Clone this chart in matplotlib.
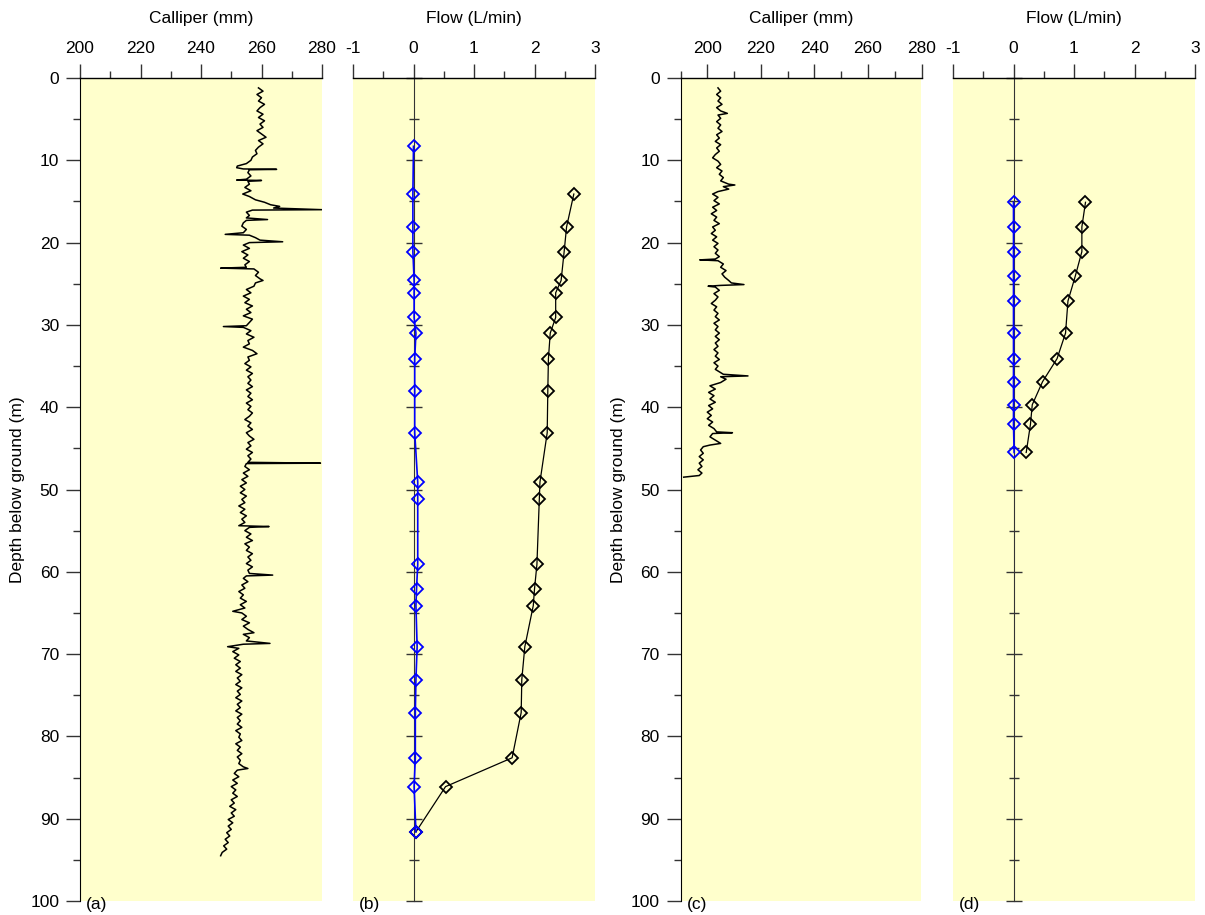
import numpy as np
import matplotlib
matplotlib.use("Agg")
import matplotlib.pyplot as plt
from matplotlib.ticker import MultipleLocator, NullFormatter

plt.rcParams['font.family'] = ['Liberation Sans', 'DejaVu Sans']
plt.rcParams['font.size'] = 12.5

# ---------------- data ----------------
# Panel (a): calliper log, borehole 1
cal1_depth = [1.2, 1.6, 2.0, 2.4, 2.8, 3.2, 3.6, 4.0, 4.4, 4.8, 5.2, 5.6, 6.0, 6.4, 6.8, 7.2, 7.6, 8.0, 8.4,
              8.8, 9.2, 9.6, 10.0, 10.4, 10.7, 10.9, 11.05, 11.1, 11.15, 11.5, 11.9, 12.3, 12.4, 12.45, 12.55,
              12.9, 13.3, 13.7, 14.1, 14.4, 14.8, 15.1, 15.4, 15.6, 15.8, 16.0, 16.05, 16.3, 16.7, 17.0, 17.2,
              17.3, 17.6, 18.0, 18.4, 18.8, 19.0, 19.1, 19.4, 19.7, 19.9, 20.0, 20.3, 20.7, 21.1, 21.5, 21.9,
              22.3, 22.7, 23.0, 23.1, 23.2, 23.6, 24.0, 24.4, 24.6, 24.9, 25.3, 25.7, 26.1, 26.5, 26.9, 27.3,
              27.7, 28.1, 28.5, 28.9, 29.3, 29.7, 30.1, 30.2, 30.3, 30.7, 31.1, 31.5, 31.9, 32.3, 32.7, 33.1,
              33.5, 33.9, 34.3, 34.7, 35.1, 35.5, 35.9, 36.3, 36.7, 37.1, 37.5, 37.9, 38.3, 38.7, 39.1, 39.5,
              39.9, 40.3, 40.7, 41.1, 41.5, 41.9, 42.3, 42.7, 43.1, 43.5, 43.9, 44.3, 44.7, 45.1, 45.5, 45.9,
              46.3, 46.7, 46.8, 46.85, 47.2, 47.6, 48.0, 48.4, 48.8, 49.2, 49.6, 50.0, 50.4, 50.8, 51.2, 51.6,
              52.0, 52.4, 52.8, 53.2, 53.6, 54.0, 54.4, 54.5, 54.6, 55.0, 55.4, 55.8, 56.2, 56.6, 57.0, 57.4,
              57.8, 58.2, 58.6, 59.0, 59.4, 59.8, 60.2, 60.4, 60.5, 60.8, 61.2, 61.6, 62.0, 62.4, 62.8, 63.2,
              63.6, 64.0, 64.4, 64.8, 65.0, 65.4, 65.8, 66.2, 66.6, 67.0, 67.4, 67.6, 68.0, 68.4, 68.7, 68.8,
              69.1, 69.3, 69.7, 70.1, 70.5, 70.9, 71.3, 71.7, 72.1, 72.5, 72.9, 73.3, 73.7, 74.1, 74.5, 74.9,
              75.3, 75.7, 76.1, 76.5, 76.9, 77.3, 77.7, 78.1, 78.5, 78.9, 79.3, 79.7, 80.1, 80.5, 80.9, 81.3,
              81.7, 82.1, 82.5, 82.9, 83.3, 83.7, 83.9, 84.1, 84.5, 84.9, 85.3, 85.7, 86.1, 86.5, 86.9, 87.3,
              87.7, 88.1, 88.5, 88.9, 89.3, 89.7, 90.1, 90.5, 90.9, 91.3, 91.7, 92.1, 92.5, 92.9, 93.3, 93.7,
              94.1, 94.5]
cal1_mm = [259, 260.5, 258.5, 260, 259, 261, 259.5, 258.5, 260.5, 259, 261, 259.5, 260.5, 258.5, 260, 261.5, 259, 260.5, 259,
           258, 258.5, 257, 256.5, 255, 252, 251.8, 254, 265, 256, 255.5, 256.5, 255, 251.8, 260, 255.5,
           256, 254.5, 256.5, 253.8, 256, 258, 261, 263, 266, 264, 280, 257, 255, 256, 255, 262,
           255, 254, 253.5, 255, 254, 248, 256, 258, 259.5, 267, 256, 254, 256, 253.5, 255.5, 254,
           256, 254.5, 255, 246.5, 257.5, 259, 258, 259.5, 260.5, 258, 257.5, 255, 256.5, 254, 256, 254.5,
           257, 255, 256.5, 254, 257, 256, 255, 247.4, 254, 256.5, 255, 257.5, 255.5, 256, 254, 257,
           258.5, 255.5, 256, 254.5, 256.5, 255, 257, 255.5, 256.5, 255.5, 257, 255, 256.5, 255.5, 257, 255,
           256.5, 255.5, 257, 256, 254.5, 256.5, 255.5, 257, 255, 256, 257.5, 255.5, 256.5, 255, 257, 255.5,
           256.5, 255.5, 279.5, 255, 254.5, 256, 254, 255.5, 253.5, 255, 253, 254.5, 253, 255, 253.5, 254.5,
           252.5, 254.5, 253, 255, 253.5, 254.5, 252.5, 262.5, 256, 254.5, 256.5, 255, 257, 254.5, 256, 255,
           257, 255.5, 256.5, 255, 257, 255.5, 256, 263.7, 255, 254, 255.5, 253.5, 254.5, 252.5, 254, 253,
           255, 253, 254.5, 250.5, 253.5, 255, 253.5, 256, 254, 255.5, 257.5, 254, 256, 255, 262.8, 254,
           248.8, 252.5, 250.5, 252.5, 251, 253, 251.5, 253, 251.5, 253.5, 252, 253, 251.5, 253.5, 252, 253,
           251.5, 253.5, 252, 253, 251.5, 253.5, 252, 253, 252, 253.5, 251.5, 253, 252.5, 253.5, 251.5, 253,
           252, 253.5, 252, 253, 252.5, 254, 255.5, 252, 251, 252.5, 250.5, 252, 250, 251.5, 250.5, 252,
           250, 251, 249.5, 251.5, 250, 251, 249, 250.5, 249, 250, 248.5, 249.5, 248, 249, 247.5, 248.5,
           247, 246.5]

# Panel (b): flow log, borehole 1
flow1_depth = [14.1, 18.1, 21.1, 24.6, 26.1, 29.1, 31.0, 34.1, 38.0, 43.1, 49.1, 51.1, 59.1,
               62.1, 64.1, 69.1, 73.1, 77.1, 82.6, 86.1, 91.6]
flow1_pumped = [2.65, 2.53, 2.49, 2.44, 2.35, 2.35, 2.26, 2.23, 2.22, 2.21, 2.09, 2.08, 2.04,
                2.00, 1.98, 1.84, 1.79, 1.78, 1.63, 0.53, 0.04]
flow1_amb_depth = [8.3, 14.1, 18.1, 21.1, 24.6, 26.1, 29.1, 31.0, 34.1, 38.0, 43.1, 49.1, 51.1,
                   59.1, 62.1, 64.1, 69.1, 73.1, 77.1, 82.6, 86.1, 91.6]
flow1_ambient = [0.0, -0.01, -0.01, -0.01, 0.01, 0.01, 0.01, 0.04, 0.02, 0.02, 0.02, 0.07, 0.07,
                 0.07, 0.05, 0.04, 0.06, 0.04, 0.03, 0.03, 0.01, 0.04]

# Panel (c): calliper log, borehole 2
cal2_depth = [1.2, 1.6, 2.0, 2.4, 2.8, 3.2, 3.6, 4.0, 4.3, 4.5, 4.9, 5.3, 5.7, 6.1, 6.5, 6.9, 7.3, 7.7,
              8.1, 8.5, 8.9, 9.3, 9.7, 10.1, 10.5, 10.9, 11.3, 11.7, 12.1, 12.5, 12.9, 13.0, 13.2, 13.5,
              13.8, 14.1, 14.5, 14.9, 15.3, 15.7, 16.1, 16.5, 16.9, 17.3, 17.7, 18.1, 18.5, 18.9, 19.3,
              19.7, 20.1, 20.5, 20.9, 21.3, 21.7, 22.0, 22.1, 22.2, 22.6, 23.0, 23.4, 23.8, 24.2, 24.6,
              24.9, 25.1, 25.2, 25.3, 25.4, 25.8, 26.2, 26.6, 27.0, 27.4, 27.8, 28.2, 28.6, 29.0, 29.4,
              29.8, 30.2, 30.6, 31.0, 31.4, 31.8, 32.2, 32.6, 33.0, 33.4, 33.8, 34.2, 34.6, 35.0, 35.4,
              35.8, 36.0, 36.2, 36.3, 36.6, 37.0, 37.4, 37.8, 38.2, 38.6, 39.0, 39.4, 39.8, 40.2, 40.6,
              41.0, 41.4, 41.8, 42.2, 42.6, 43.0, 43.1, 43.2, 43.6, 44.0, 44.4, 44.6, 44.8, 45.2, 45.6,
              46.0, 46.4, 46.8, 47.2, 47.6, 48.0, 48.3, 48.5]
cal2_mm = [204, 205, 203.5, 205, 204, 205.5, 203.5, 205, 207.5, 204, 205, 203.5, 205, 204, 205.5, 203.5, 204.5, 203,
           205, 203.5, 204.5, 203, 202, 204, 205, 203.5, 205.5, 204.5, 206, 205, 208, 210.3, 206, 208,
           204, 202, 204, 202.5, 204.5, 202, 203.5, 201.5, 203.5, 202.5, 204.5, 202, 203, 201.5, 203.5,
           202, 204, 202.5, 204, 203, 204.5, 203, 197.2, 204, 206, 205, 207, 205.5, 206.5, 208,
           209, 213.7, 205, 200.3, 203, 204.5, 202.5, 204, 203, 201.5, 203.5, 202.5, 204, 203, 204.5,
           202.5, 204, 203, 204.5, 203, 204.5, 203, 204, 202.5, 204, 203, 204.5, 202.5, 204, 203,
           205, 206, 215.2, 205, 207, 205, 201, 203, 200.5, 202.5, 201, 203, 200.5, 202, 200,
           201.5, 200, 202, 200.5, 202.5, 203.5, 209.4, 202, 201, 203, 205, 201, 198.5, 197.5, 198.5,
           197, 198.5, 197, 198, 196.5, 198, 197, 191.2]

# Panel (d): flow log, borehole 2
flow2_depth = [15.1, 18.1, 21.1, 24.1, 27.1, 31.0, 34.1, 36.9, 39.7, 42.1, 45.5]
flow2_pumped = [1.19, 1.13, 1.13, 1.02, 0.90, 0.86, 0.72, 0.48, 0.31, 0.28, 0.21]
flow2_ambient = [0.0, 0.0, 0.0, 0.0, 0.0, 0.0, 0.0, 0.0, 0.0, 0.0, 0.01]

# ---------------- figure ----------------
W, H = 1205, 915
fig = plt.figure(figsize=(W / 100, H / 100), dpi=100)
BG = '#FFFFCC'
TICKC = '#333333'

def make_ax(left_px, right_px, xlim, xmajor, xminor, xlabel, letter, flow):
    ax = fig.add_axes([left_px / W, 1 - 901 / H, (right_px - left_px) / W, (901 - 78) / H])
    ax.set_facecolor(BG)
    ax.set_xlim(*xlim)
    ax.set_ylim(100, 0)
    ax.xaxis.tick_top()
    ax.xaxis.set_label_position('top')
    ax.xaxis.set_major_locator(MultipleLocator(xmajor))
    ax.xaxis.set_minor_locator(MultipleLocator(xminor))
    ax.yaxis.set_major_locator(MultipleLocator(10))
    ax.yaxis.set_minor_locator(MultipleLocator(5))
    ax.set_xlabel(xlabel, labelpad=13)
    for s in ('bottom', 'right'):
        ax.spines[s].set_visible(False)
    ax.spines['top'].set_linewidth(1.0)
    ax.tick_params(axis='x', which='major', direction='out', length=10, width=1.0,
                   color=TICKC, pad=6, labelsize=12.5)
    ax.tick_params(axis='x', which='minor', direction='out', length=5, width=1.0, color=TICKC)
    if flow:
        ax.spines['left'].set_position(('data', 0))
        ax.spines['left'].set_color('#333333')
        ax.tick_params(axis='y', which='major', direction='inout', length=11, width=1.0,
                       color=TICKC, labelleft=False)
        ax.tick_params(axis='y', which='minor', direction='inout', length=7, width=1.0,
                       color=TICKC)
        ax.xaxis.set_major_formatter(matplotlib.ticker.FuncFormatter(lambda v, p: f"{v:.0f}"))
    else:
        ax.tick_params(axis='y', which='major', direction='out', length=10, width=1.0,
                       color=TICKC, pad=5, labelsize=12.5)
        ax.tick_params(axis='y', which='minor', direction='out', length=5, width=1.0, color=TICKC)
    ax.text(0.025, -0.004, letter, transform=ax.transAxes, ha='left', va='center',
            fontsize=12.5, clip_on=False)
    return ax

ax_a = make_ax(80, 322, (200, 280), 20, 10, 'Calliper (mm)', '(a)', False)
ax_b = make_ax(353, 595, (-1, 3), 1, 0.5, 'Flow (L/min)', '(b)', True)
ax_c = make_ax(680.5, 921.5, (190, 280), 20, 10, 'Calliper (mm)', '(c)', False)
ax_d = make_ax(953, 1195, (-1, 3), 1, 0.5, 'Flow (L/min)', '(d)', True)

ax_a.plot(cal1_mm, cal1_depth, color='black', lw=1.1)
ax_c.plot(cal2_mm, cal2_depth, color='black', lw=1.1)

mk = dict(marker='D', ms=5.8, mfc='none', mew=1.3)
ax_b.plot(flow1_pumped, flow1_depth, color='black', lw=0.9, mec='black', **mk, zorder=3)
ax_b.plot(flow1_ambient, flow1_amb_depth, color='#0000FF', lw=1.2, mec='#0000FF', **mk, zorder=4)
ax_d.plot(flow2_pumped, flow2_depth, color='black', lw=0.9, mec='black', **mk, zorder=3)
ax_d.plot(flow2_ambient, flow2_depth, color='#0000FF', lw=1.2, mec='#0000FF', **mk, zorder=4)

fig.text(18 / W, 1 - 490 / H, 'Depth below ground (m)', rotation=90, ha='center', va='center',
         fontsize=12.5)
fig.text(618 / W, 1 - 490 / H, 'Depth below ground (m)', rotation=90, ha='center', va='center',
         fontsize=12.5)

fig.savefig('out.png', dpi=100, facecolor='white')
